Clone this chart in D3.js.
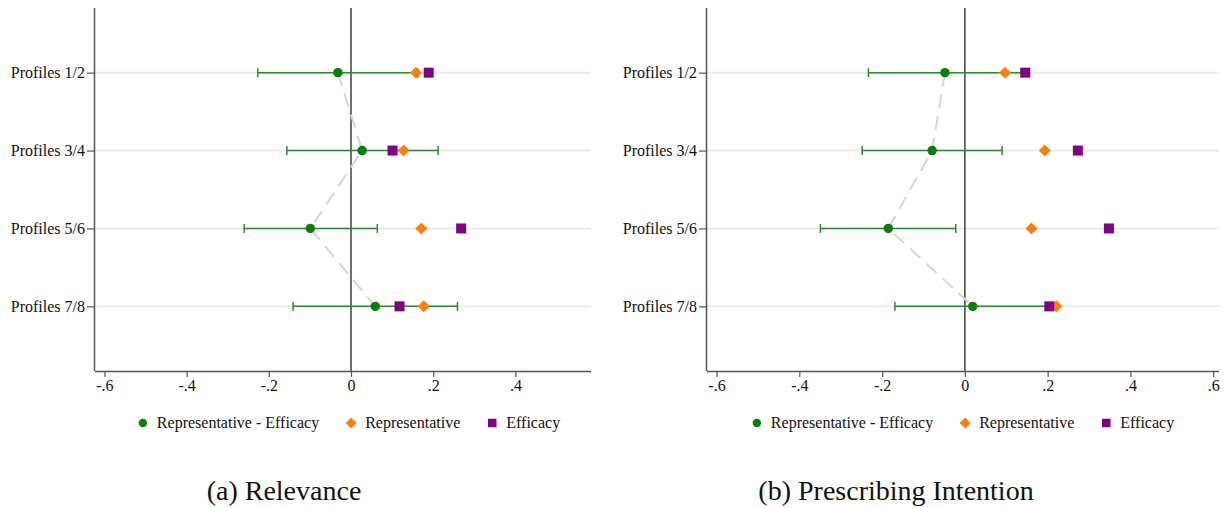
<!DOCTYPE html>
<html>
<head>
<meta charset="utf-8">
<script src="https://cdn.jsdelivr.net/npm/d3@7"></script>
<style>
  body { margin: 0; background: #fff; }
  svg { display: block; }
</style>
</head>
<body>
<svg width="1225" height="508"></svg>
<script>
const profiles = ['Profiles 1/2', 'Profiles 3/4', 'Profiles 5/6', 'Profiles 7/8'];
const xTickValues = [-0.6, -0.4, -0.2, 0, 0.2, 0.4, 0.6];
const xTickLabels = ['-.6', '-.4', '-.2', '0', '.2', '.4', '.6'];
const legendLabels = ['Representative - Efficacy', 'Representative', 'Efficacy'];

// (a) Relevance
const relevanceDiff = [-0.032, 0.027, -0.099, 0.059];
const relevanceLow = [-0.227, -0.156, -0.26, -0.141];
const relevanceHigh = [0.163, 0.212, 0.064, 0.259];
const relevanceRep = [0.158, 0.128, 0.171, 0.177];
const relevanceEff = [0.189, 0.101, 0.268, 0.118];

// (b) Prescribing Intention
const intentionDiff = [-0.048, -0.079, -0.185, 0.019];
const intentionLow = [-0.233, -0.248, -0.349, -0.169];
const intentionHigh = [0.137, 0.09, -0.022, 0.207];
const intentionRep = [0.097, 0.193, 0.161, 0.221];
const intentionEff = [0.146, 0.273, 0.348, 0.204];

const FONT = 'Liberation Serif';
const colorDiff = '#0b7d0b';
const colorCI = '#2a8c2a';
const colorRep = '#ff7f0e';
const colorEff = '#800080';

const svg = d3.select('svg');

const symCircle = d3.symbol(d3.symbolCircle, 70);
const symSquare = d3.symbol(d3.symbolSquare, 100);
const symDiamond = d3.symbol(d3.symbolSquare, 72);

function drawPanel({ left, right, xDomain, top, bottom, diff, low, high, rep, eff, legendShift, caption }) {
  const x = d3.scaleLinear().domain(xDomain).range([left, right]);
  const y = d3.scaleLinear().domain([0.17, 4.83]).range([top, bottom]);
  const g = svg.append('g');

  const rows = profiles.map((p, i) => ({
    pos: i + 1, diff: diff[i], low: low[i], high: high[i], rep: rep[i], eff: eff[i],
  }));

  // grid lines
  g.selectAll('line.grid')
    .data(rows)
    .join('line')
    .attr('x1', left).attr('x2', right)
    .attr('y1', (d) => y(d.pos)).attr('y2', (d) => y(d.pos))
    .attr('stroke', '#ebebeb')
    .attr('stroke-width', 2);

  // zero line
  g.append('line')
    .attr('x1', x(0)).attr('x2', x(0))
    .attr('y1', top).attr('y2', bottom)
    .attr('stroke', '#4d4d4d')
    .attr('stroke-width', 1.6);

  // dashed connector
  const line = d3.line().x((d) => x(d.diff)).y((d) => y(d.pos));
  g.append('path')
    .datum(rows)
    .attr('d', line)
    .attr('fill', 'none')
    .attr('stroke', '#d6d6d6')
    .attr('stroke-width', 2)
    .attr('stroke-dasharray', '14,8');

  // confidence intervals
  const ci = g.selectAll('g.ci').data(rows).join('g');
  ci.append('line')
    .attr('x1', (d) => x(d.low)).attr('x2', (d) => x(d.high))
    .attr('y1', (d) => y(d.pos)).attr('y2', (d) => y(d.pos))
    .attr('stroke', colorCI).attr('stroke-width', 1.5);
  ['low', 'high'].forEach((k) => {
    ci.append('line')
      .attr('x1', (d) => x(d[k])).attr('x2', (d) => x(d[k]))
      .attr('y1', (d) => y(d.pos) - 4.5).attr('y2', (d) => y(d.pos) + 4.5)
      .attr('stroke', colorCI).attr('stroke-width', 1.5);
  });

  // markers
  g.selectAll('path.diff').data(rows).join('path')
    .attr('d', symCircle)
    .attr('transform', (d) => `translate(${x(d.diff)},${y(d.pos)})`)
    .attr('fill', colorDiff);
  g.selectAll('path.rep').data(rows).join('path')
    .attr('d', symDiamond)
    .attr('transform', (d) => `translate(${x(d.rep)},${y(d.pos)}) rotate(45)`)
    .attr('fill', colorRep);
  g.selectAll('path.eff').data(rows).join('path')
    .attr('d', symSquare)
    .attr('transform', (d) => `translate(${x(d.eff)},${y(d.pos)})`)
    .attr('fill', colorEff);

  // axes
  const ticks = xTickValues.filter((v) => x(v) <= right + 0.5);
  const xAxis = g.append('g')
    .attr('transform', `translate(0,${bottom})`)
    .call(d3.axisBottom(x)
      .tickValues(ticks)
      .tickFormat((v) => xTickLabels[xTickValues.indexOf(v)])
      .tickSize(6)
      .tickPadding(3));
  xAxis.select('.domain').attr('d', `M${left},0.5H${right}`);

  const yAxis = g.append('g')
    .attr('transform', `translate(${left},0)`)
    .call(d3.axisLeft(y)
      .tickValues([1, 2, 3, 4])
      .tickFormat((v) => profiles[v - 1])
      .tickSize(8)
      .tickPadding(2));
  yAxis.select('.domain').attr('d', `M-0.5,${top}V${bottom}`);

  [xAxis, yAxis].forEach((a) => {
    a.attr('font-family', FONT).attr('font-size', 16);
    a.select('.domain').attr('stroke', '#555').attr('stroke-width', 1.5);
    a.selectAll('.tick line').attr('stroke', '#555').attr('stroke-width', 1.2);
    a.selectAll('.tick text').attr('fill', '#111');
  });

  // legend
  const legendY = 423;
  const legend = g.append('g');
  const symbols = [
    { sym: d3.symbol(d3.symbolCircle, 56), color: colorDiff, rot: 0 },
    { sym: d3.symbol(d3.symbolSquare, 60), color: colorRep, rot: 45 },
    { sym: d3.symbol(d3.symbolSquare, 72), color: colorEff, rot: 0 },
  ];
  let cursor = 0;
  legendLabels.forEach((label, i) => {
    const item = legend.append('g').attr('transform', `translate(${cursor},0)`);
    item.append('path')
      .attr('d', symbols[i].sym)
      .attr('transform', `rotate(${symbols[i].rot})`)
      .attr('fill', symbols[i].color);
    const t = item.append('text')
      .attr('x', 14)
      .attr('dy', '0.34em')
      .attr('fill', '#111')
      .attr('font-family', FONT)
      .attr('font-size', 16)
      .text(label);
    cursor += 14 + t.node().getComputedTextLength() + 32;
  });
  const legendWidth = cursor - 32 + 5;
  const legendLeft = (left + right) / 2 - legendWidth / 2 + 5 + legendShift;
  legend.attr('transform', `translate(${legendLeft},${legendY})`);

  // caption
  svg.append('text')
    .attr('x', caption.x)
    .attr('y', 500)
    .attr('text-anchor', 'middle')
    .attr('fill', '#111')
    .attr('font-family', FONT)
    .attr('font-size', 28)
    .text(caption.text);
}

drawPanel({
  left: 95, right: 591, xDomain: [-0.623, 0.584], top: 8, bottom: 371,
  diff: relevanceDiff, low: relevanceLow, high: relevanceHigh,
  rep: relevanceRep, eff: relevanceEff, legendShift: 6,
  caption: { x: 284, text: '(a) Relevance' },
});

drawPanel({
  left: 707, right: 1219, xDomain: [-0.623, 0.614], top: 8, bottom: 371,
  diff: intentionDiff, low: intentionLow, high: intentionHigh,
  rep: intentionRep, eff: intentionEff, legendShift: 0,
  caption: { x: 896, text: '(b) Prescribing Intention' },
});
</script>
</body>
</html>
